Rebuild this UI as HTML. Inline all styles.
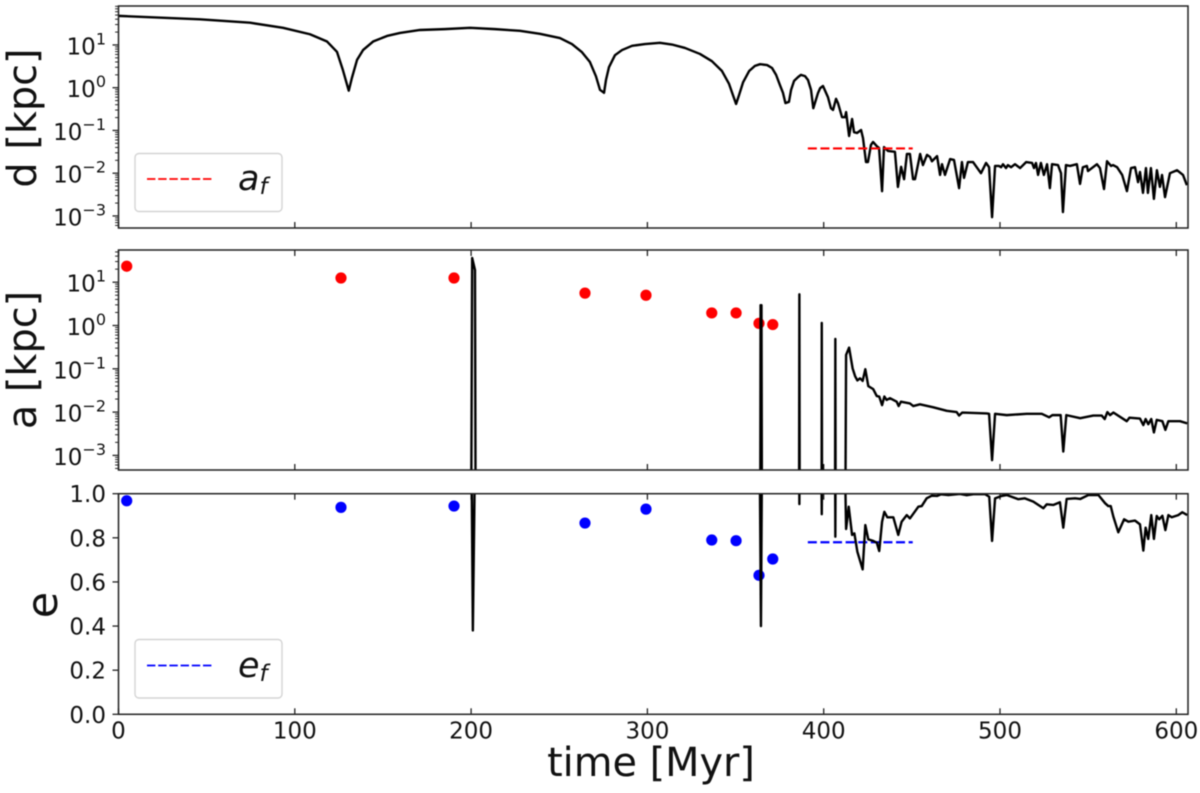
<!DOCTYPE html>
<html lang="en">
<head>
<meta charset="utf-8">
<title>Orbital decay: separation, semi-major axis and eccentricity</title>
<style>
html,body{margin:0;padding:0;background:#fff;width:1200px;height:793px;overflow:hidden}
svg{display:block;position:absolute;left:0;top:0;filter:blur(0.4px)}
text{font-family:"DejaVu Sans","Liberation Sans",sans-serif;fill:#111}
.tick{font-size:23px}
.label{font-size:39.8px}
.math{font-style:italic;font-size:35px}
.sub{font-style:italic;font-size:23px}
</style>
</head>
<body>
<svg id="chart" width="1200" height="793" viewBox="0 0 1200 793" xmlns="http://www.w3.org/2000/svg">
  <defs>
    <clipPath id="clip-d"><rect x="118.5" y="6" width="1069.5" height="222"/></clipPath>
    <clipPath id="clip-a"><rect x="118.5" y="250" width="1069.5" height="220"/></clipPath>
    <clipPath id="clip-e"><rect x="118.5" y="493.7" width="1069.5" height="220.6"/></clipPath>
  </defs>
  <g id="layer-ticks"></g>
  <g id="layer-series"></g>
  <g id="layer-frames"></g>

  <text class="label" transform="translate(36,118) rotate(-90)" text-anchor="middle">d [kpc]</text>
  <text class="label" transform="translate(36,360) rotate(-90)" text-anchor="middle">a [kpc]</text>
  <text class="label" style="font-size:43px" transform="translate(57,605) rotate(-90)" text-anchor="middle">e</text>
  <text class="label" x="651" y="776" text-anchor="middle">time [Myr]</text>

  <g>
    <rect x="135" y="153.5" width="147" height="58" rx="4" ry="4" fill="#fff" fill-opacity="0.8" stroke="#d4d4d4" stroke-width="1.4"/>
    <line x1="147" y1="179" x2="212" y2="179" stroke="#ff0000" stroke-width="1.7" stroke-dasharray="8.4 2.8"/>
    <text x="238" y="190"><tspan class="math">a</tspan><tspan class="sub" dy="4">f</tspan></text>
  </g>
  <g>
    <rect x="135" y="639.5" width="147" height="58.5" rx="4" ry="4" fill="#fff" fill-opacity="0.8" stroke="#d4d4d4" stroke-width="1.4"/>
    <line x1="147" y1="665.5" x2="212" y2="665.5" stroke="#0000ff" stroke-width="1.7" stroke-dasharray="8.4 2.8"/>
    <text x="238" y="677"><tspan class="math">e</tspan><tspan class="sub" dy="4">f</tspan></text>
  </g>
</svg>
<script>
// ---- axis tick values ----
const xTicks = [0, 100, 200, 300, 400, 500, 600];
const logTickExponents = [1, 0, -1, -2, -3];
const logTickLabels = ['1', '0', '\u22121', '\u22122', '\u22123'];
const eTicks = [0, 0.2, 0.4, 0.6, 0.8, 1];
const eTickLabels = ['0.0', '0.2', '0.4', '0.6', '0.8', '1.0'];

// ---- separation d: time [Myr], log10 d [kpc] ----
const dTime = [
0,46.2,74.6,93.3,108.6,118.3,123.9,127.3,130.6,132.4,
135.3,138.7,144.4,152.3,159.7,171,185,199.4,213.6,227.7,
239,250.4,257.2,262.9,267.4,270.8,273.1,275.4,276.5,278.2,
281.6,285.6,291.3,298.6,307.1,313.9,321.3,329.8,336.6,342.3,
346.3,348.5,350.3,352,354.3,357.7,361,363.9,367.9,370.7,
373,375.2,376.9,378.3,380.3,381.5,383.2,385.5,387.1,389.4,
391.1,392.8,394.1,396.8,398,399.6,402.4,404.1,405.3,407,
408.1,410.4,412.1,412.7,414.4,416.1,417.2,418.9,421.2,422.3,
424,425.1,426.8,428,430.2,431.4,433.1,434.2,436.5,440.4,
442.1,443.9,445.6,447.2,448.9,450.7,451.8,454.7,456.3,458.6,
460.3,461.4,464.3,466,467.1,468.8,471.7,473.9,476.8,478.4,
479.6,481.8,484.7,489.2,492.1,493.8,495.5,497.2,499.4,500.6,
501.7,503.4,504.5,506.3,508.5,511.4,514.8,518.2,519.3,520.4,
521.6,523.2,524.9,526.7,528.3,529.5,532.9,534.6,535.7,537.4,
539.7,543.6,545.4,547,549.3,549.9,555,556.7,559,560.7,
563,564.1,566.4,569.3,572,574.3,576.6,578.3,579.4,581.1,
582.8,583.9,585.6,587.3,589,590.7,591.9,593.6,596.4,600.4,
603.8,606];
const dLog = [
1.68,1.60,1.52,1.40,1.25,1.08,0.84,0.41,-0.07,0.23,
0.65,0.88,1.08,1.21,1.28,1.35,1.37,1.40,1.37,1.33,
1.26,1.16,1.02,0.83,0.60,0.27,-0.05,-0.12,0.18,0.48,
0.76,0.88,0.98,1.02,1.05,1.01,0.93,0.79,0.62,0.39,
0.09,-0.17,-0.38,-0.17,0.13,0.39,0.51,0.55,0.53,0.46,
0.30,0.06,-0.12,-0.36,-0.33,-0.05,0.16,0.25,0.30,0.27,
0.18,-0.05,-0.48,-0.12,-0.01,0.04,-0.22,-0.48,-0.52,-0.26,
-0.36,-0.69,-0.69,-0.57,-1.13,-0.73,-1.04,-1.06,-0.99,-1.18,
-1.74,-1.74,-1.34,-1.27,-1.37,-1.41,-2.42,-1.39,-1.48,-1.50,
-2.32,-1.85,-2.14,-1.55,-1.55,-2.14,-2.14,-1.55,-1.81,-1.57,
-1.62,-1.72,-1.60,-2.04,-1.79,-2.04,-1.67,-1.69,-2.35,-1.74,
-2.11,-1.74,-1.74,-2.0,-1.76,-1.86,-3.03,-1.83,-1.83,-1.86,
-1.79,-1.88,-1.81,-1.86,-1.79,-1.88,-1.74,-1.76,-1.88,-1.76,
-2.04,-1.76,-2.04,-1.79,-2.35,-1.79,-1.81,-2.0,-2.91,-1.81,
-1.83,-1.79,-2.25,-1.86,-1.83,-1.95,-1.79,-1.88,-2.37,-1.72,
-1.83,-1.81,-1.86,-2.04,-2.42,-1.88,-1.86,-2.21,-1.97,-2.46,
-1.88,-2.46,-1.88,-2.60,-1.93,-2.32,-2.04,-2.56,-2.0,-1.93,
-2.04,-2.28];

// ---- semi-major axis a: time [Myr], log10 a [kpc]; -5 = unbound, below the axis ----
const aTime = [
200,200.6,202.2,202.6,364,364.2,364.7,365,386,386.2,
386.4,398.8,398.9,399.1,399.3,399.5,406.4,406.6,406.8,412.2,
412.7,414.4,416.4,417.8,419.1,420.6,422.1,423.6,425.3,428.1,
430.1,431.5,433.1,434.4,435.7,437.6,441.4,442.5,443.8,448.9,
450.8,454.6,462.2,469.8,475.4,476.8,478.6,492.5,493.8,495.5,
497.2,503.8,515.1,523.7,527.9,529.7,534.4,535.9,537.6,545.5,
552.9,557.7,559.4,560.9,562.4,564.3,571.9,573.4,579.4,581.3,
582.6,584.1,585.8,587.3,588.9,592.1,593.8,595.5,602.1,606.2];
const aLog = [
-5,1.56,1.28,-5,-5,0.47,0.47,-5,-5,0.72,
-5,-5,0.06,-5,-3.22,-5,-5,-0.31,-5,-5,
-0.68,-0.51,-0.99,-1.17,-1.27,-1.22,-1.28,-1.01,-1.40,-1.47,
-1.63,-1.64,-1.84,-1.64,-1.72,-1.68,-1.76,-1.86,-1.76,-1.80,
-1.86,-1.82,-1.89,-1.97,-2.0,-2.08,-2.01,-2.03,-2.04,-3.11,
-2.04,-2.07,-2.04,-2.04,-2.12,-2.07,-2.07,-2.91,-2.07,-2.14,
-2.08,-2.08,-2.16,-2.0,-2.07,-2.01,-2.21,-2.13,-2.15,-2.30,
-2.16,-2.28,-2.16,-2.47,-2.18,-2.21,-2.41,-2.21,-2.21,-2.26];

// ---- eccentricity e: time [Myr], e; 1.3 = unbound, above the axis ----
const eTime = [
200.1,201,202.4,363.6,364.4,365.1,386,386.2,386.4,398.5,
398.9,399.3,406.4,406.6,406.8,411.7,412.7,414.2,416.1,417.4,
419.1,422.1,423.6,425.3,428.1,430.1,431.5,433.1,434.4,436.1,
439.5,442.3,444.2,447.1,448.9,453.7,455.6,458.4,461.3,464.4,
466.4,470.7,477.3,481.1,484.9,491.5,493.9,495.5,497.2,501,
503.8,510.4,514.1,518.9,524.6,526.5,530.2,534,535.9,537.8,
542.6,545.5,550.1,555.8,559.6,561.4,562.8,564.3,567.1,570.4,
572.8,576.6,579.4,581.3,582.6,584.1,585.8,587.3,588.9,590.3,
592.1,593.8,595.5,597.4,601.1,603.4,606.2];
const eValue = [
1.3,0.38,1.3,1.3,0.40,1.3,1.3,0.953,1.3,1.3,
0.907,1.3,1.3,0.805,1.3,1.3,0.84,0.941,0.813,0.82,
0.737,0.657,0.858,0.793,0.786,0.778,0.74,0.873,0.918,0.893,
0.893,0.813,0.873,0.903,0.888,0.941,0.944,0.979,0.991,0.99,
0.997,0.994,0.999,0.993,0.998,0.998,0.986,0.786,0.979,0.99,
0.994,0.975,0.979,0.964,0.934,0.952,0.949,0.961,0.846,0.976,
0.979,0.976,0.994,0.994,0.957,0.944,0.944,0.896,0.825,0.884,
0.873,0.878,0.861,0.742,0.846,0.795,0.903,0.795,0.899,0.884,
0.9,0.835,0.903,0.893,0.903,0.916,0.903];

// ---- analytic estimates at the merger epochs ----
const pointTime = [4.65, 126.2, 190.3, 264.6, 299.2, 336.5, 350.3, 363.3, 371.1];
const pointA = [23.4, 12.5, 12.5, 5.6, 5.0, 1.95, 1.95, 1.12, 1.05];
const pointE = [0.968, 0.938, 0.944, 0.867, 0.93, 0.79, 0.787, 0.63, 0.704];

// ---- final values (dashed reference lines) ----
const finalSpan = [391, 450.5];
const finalA = 0.038;
const finalE = 0.78;

// ---- axis functions ----
const NS = 'http://www.w3.org/2000/svg';
const LEFT = 118.5, RIGHT = 1188;
const xAxis = t => 118.5 + 1.763 * t;
const yD = lg => 87.7 - 42.75 * lg;
const yA = lg => 325.5 - 43.3 * lg;
const yE = e => 714.3 - 220.6 * e;
const panels = [
  {top: 6, bottom: 228, y: yD, key: 'd'},
  {top: 250, bottom: 470, y: yA, key: 'a'},
  {top: 493.7, bottom: 714.3, y: yE, key: 'e'}
];

function make(tag, attrs, parent) {
  const el = document.createElementNS(NS, tag);
  for (const k in attrs) el.setAttribute(k, attrs[k]);
  parent.appendChild(el);
  return el;
}
function path(ts, vs, y) {
  return ts.map((t, i) => (i ? 'L' : 'M') + xAxis(t).toFixed(2) + ' ' + y(vs[i]).toFixed(2)).join('');
}

const ticksLayer = document.getElementById('layer-ticks');
const seriesLayer = document.getElementById('layer-series');
const framesLayer = document.getElementById('layer-frames');
const TICK = '#222';

// x ticks: inward, on the panel edges that carry them
function xTick(t, y1, y2) {
  const el = make('line', {x1: xAxis(t), x2: xAxis(t), y1: y1, y2: y2, stroke: TICK, 'stroke-width': 1.3}, ticksLayer);
  
  
}
xTicks.forEach(t => {
  xTick(t, 228, 222);
  xTick(t, 250, 256);
  xTick(t, 470, 464);
  xTick(t, 493.7, 499.7);
  xTick(t, 714.3, 708.3);
  const lab = make('text', {x: xAxis(t), y: 738.5, 'text-anchor': 'middle', class: 'tick'}, ticksLayer);
  
  
  lab.textContent = String(t);
});

// log y ticks and minor ticks
function logAxis(p) {
  for (let dec = -4; dec <= 2; dec++) {
    for (let m = 1; m <= 9; m++) {
      const yy = p.y(dec + Math.log10(m));
      if (yy < p.top - 0.1 || yy > p.bottom + 0.1) continue;
      const len = m === 1 ? 6 : 3.4;
      const el = make('line', {x1: LEFT - len, x2: LEFT, y1: yy, y2: yy, stroke: TICK, 'stroke-width': m === 1 ? 1.3 : 1}, ticksLayer);
      
      
    }
  }
  logTickExponents.forEach((ex, i) => {
    const lab = make('text', {x: 106, y: p.y(ex) + 9.5, 'text-anchor': 'end', class: 'tick'}, ticksLayer);
    
    
    const base = make('tspan', {}, lab);
    base.textContent = '10';
    const sup = make('tspan', {dy: -10, 'font-size': 16}, lab);
    sup.textContent = logTickLabels[i];
  });
}
logAxis(panels[0]);
logAxis(panels[1]);

// linear eccentricity ticks
eTicks.forEach((e, i) => {
  const el = make('line', {x1: LEFT - 6, x2: LEFT, y1: yE(e), y2: yE(e), stroke: TICK, 'stroke-width': 1.3}, ticksLayer);
  
  
  const lab = make('text', {x: 106, y: yE(e) + 8.5, 'text-anchor': 'end', class: 'tick'}, ticksLayer);
  
  
  lab.textContent = eTickLabels[i];
});

// black curves
const lineStyle = {fill: 'none', stroke: '#000', 'stroke-width': 2.4, 'stroke-linejoin': 'round'};
const lineD = make('path', Object.assign({d: path(dTime, dLog, yD), 'clip-path': 'url(#clip-d)'}, lineStyle), seriesLayer);


const lineA = make('path', Object.assign({d: path(aTime, aLog, yA), 'clip-path': 'url(#clip-a)'}, lineStyle), seriesLayer);


const lineE = make('path', Object.assign({d: path(eTime, eValue, yE), 'clip-path': 'url(#clip-e)'}, lineStyle), seriesLayer);



// dashed final values
const dashA = make('line', {x1: xAxis(finalSpan[0]), x2: xAxis(finalSpan[1]), y1: yD(Math.log10(finalA)), y2: yD(Math.log10(finalA)), stroke: '#ff0000', 'stroke-width': 2.2, 'stroke-dasharray': '9 3.6'}, seriesLayer);


const dashE = make('line', {x1: xAxis(finalSpan[0]), x2: xAxis(finalSpan[1]), y1: yE(finalE), y2: yE(finalE), stroke: '#0000ff', 'stroke-width': 2.2, 'stroke-dasharray': '9 3.6'}, seriesLayer);



// estimate points
pointTime.forEach((t, i) => {
  const ca = make('circle', {cx: xAxis(t), cy: yA(Math.log10(pointA[i])), r: 5.6, fill: '#ff0000'}, seriesLayer);
  
  
  const ce = make('circle', {cx: xAxis(t), cy: yE(pointE[i]), r: 5.6, fill: '#0000ff'}, seriesLayer);
  
  
});
// the black spikes sit above the points near 364 Myr
seriesLayer.appendChild(lineA);
seriesLayer.appendChild(lineE);

// axis frames
panels.forEach(p => {
  const fr = make('rect', {x: LEFT, y: p.top, width: RIGHT - LEFT, height: p.bottom - p.top, fill: 'none', stroke: '#222', 'stroke-width': 1.5}, framesLayer);
  
  
});
</script>
</body>
</html>
